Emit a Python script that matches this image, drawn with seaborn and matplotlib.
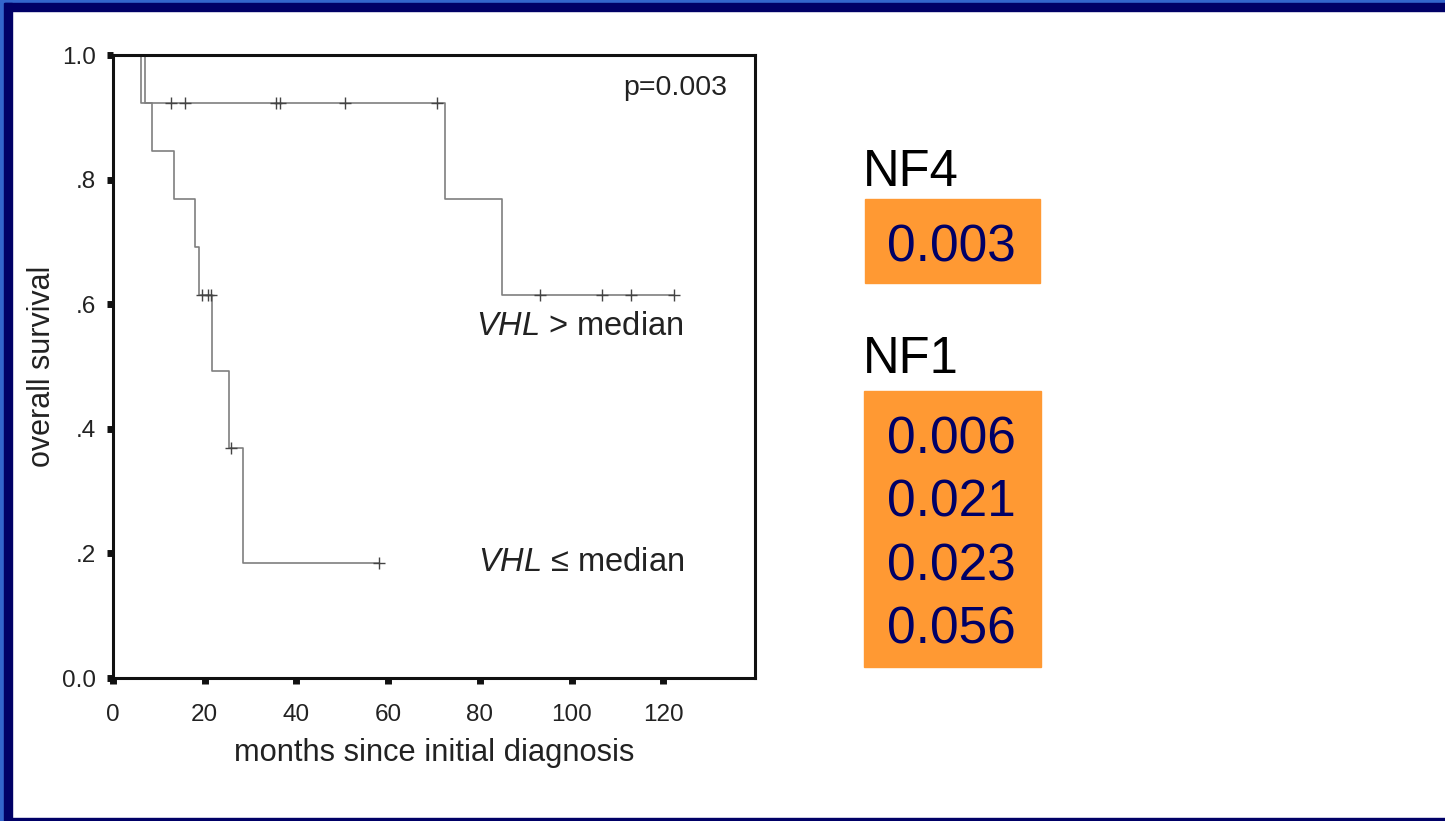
import numpy as np
import pandas as pd
import matplotlib
matplotlib.use("Agg")
import matplotlib.pyplot as plt
from matplotlib.patches import Rectangle
import seaborn as sns


# ── Data ─────────────────────────────────────────────────────────────────────

# VHL > median: event and censoring times in months
high_events   = [7.0, 72.5, 84.8]
high_censored = [12.7, 15.6, 35.5, 36.5, 50.5, 70.7, 93.2, 106.7, 112.9, 122.3]

# VHL <= median
low_events   = [6.1, 8.4, 13.2, 17.9, 18.8, 21.6, 25.4, 28.3]
low_censored = [19.4, 20.7, 21.3, 25.8, 57.9]

x_ticks = [0, 20, 40, 60, 80, 100, 120]
y_ticks = [0.0, 0.2, 0.4, 0.6, 0.8, 1.0]
y_tick_labels = ["0.0", ".2", ".4", ".6", ".8", "1.0"]

p_text = "p=0.003"
nf4_label = "NF4"
nf4_values = ["0.003"]
nf1_label = "NF1"
nf1_values = ["0.006", "0.021", "0.023", "0.056"]


# ── Kaplan-Meier helper ──────────────────────────────────────────────────────

def kaplan_meier(events, censored):
    """Return step curve (t, S) and survival at each censoring time."""
    times = sorted([(t, 1) for t in events] + [(t, 0) for t in censored])
    n = len(times)
    s = 1.0
    curve_t, curve_s = [0.0], [1.0]
    cens_t, cens_s = [], []
    for t, is_event in times:
        if is_event:
            s *= (n - 1) / n
            curve_t.append(t)
            curve_s.append(s)
        else:
            cens_t.append(t)
            cens_s.append(s)
        n -= 1
    last = max(events + censored)
    curve_t.append(last)
    curve_s.append(s)
    return curve_t, curve_s, cens_t, cens_s


rows, marks = [], []
for name, ev, ce in [("high", high_events, high_censored),
                     ("low", low_events, low_censored)]:
    ct, cs, mt, ms = kaplan_meier(ev, ce)
    rows += [{"group": name, "time": t, "surv": v} for t, v in zip(ct, cs)]
    marks += [{"group": name, "time": t, "surv": v} for t, v in zip(mt, ms)]
curve_df = pd.DataFrame(rows)
marks_df = pd.DataFrame(marks)


# ── Plot ─────────────────────────────────────────────────────────────────────

sns.set_theme(style="white")
plt.rcParams["font.family"] = ["Liberation Sans", "DejaVu Sans"]
plt.rcParams["mathtext.fontset"] = "custom"
plt.rcParams["mathtext.it"] = "Liberation Sans:italic"
plt.rcParams["mathtext.rm"] = "Liberation Sans"

fig = plt.figure(figsize=(14.45, 8.21), dpi=100)
W, H = 1445, 821

# slide frame
blue, navy = "#3366cc", "#000066"
fig.patches += [
    Rectangle((0, 1 - 3 / H), 1, 3 / H, transform=fig.transFigure, color=blue, zorder=0),
    Rectangle((0, 1 - 11 / H), 1, 8 / H, transform=fig.transFigure, color=navy, zorder=0),
    Rectangle((0, 0), 4 / W, 1, transform=fig.transFigure, color=blue, zorder=1),
    Rectangle((4 / W, 0), 8 / W, 1 - 3 / H, transform=fig.transFigure, color=navy, zorder=1),
    Rectangle((0, 0), 1, 3 / H, transform=fig.transFigure, color=navy, zorder=0),
]

ax = fig.add_axes([113 / W, 143 / H, 642 / W, 623 / H])

for name in ["high", "low"]:
    sub = curve_df[curve_df.group == name]
    sns.lineplot(data=sub, x="time", y="surv", ax=ax, estimator=None, sort=False,
                 drawstyle="steps-post", color="#7f7f7f", linewidth=1.2)
ax.plot(marks_df.time, marks_df.surv, linestyle="none", marker="+",
        markersize=9, markeredgewidth=1.0, color="#444444")

ax.set_xlim(0, 140)
ax.set_ylim(0, 1)
ax.set_xticks(x_ticks)
ax.set_yticks(y_ticks)
ax.set_yticklabels(y_tick_labels)
ax.tick_params(axis="both", direction="out", length=4, width=5, color="#111111",
               labelsize=17.5, labelcolor="#222222", left=True, bottom=True)
ax.tick_params(axis="x", pad=15)
ax.tick_params(axis="y", pad=8)
for side in ["left", "bottom", "top", "right"]:
    ax.spines[side].set_visible(True)
    ax.spines[side].set_color("#111111")
    ax.spines[side].set_linewidth(2.2)

ax.set_xlabel("months since initial diagnosis", fontsize=22.2, color="#222222", labelpad=8)
ax.set_ylabel("overall survival", fontsize=22, color="#222222", labelpad=4)

ax.text(134, 0.936, p_text, ha="right", va="baseline", fontsize=20.5, color="#222222")
ax.text(124.5, 0.551, r"$\it{VHL}$ > median", ha="right", va="baseline",
        fontsize=23.5, color="#222222")
ax.text(124.5, 0.172, r"$\it{VHL}$ ≤ median", ha="right", va="baseline",
        fontsize=23.5, color="#222222")

# right-hand p-value panel
orange = "#ff9933"
fig.text(863 / W, 1 - 186 / H, nf4_label, fontsize=36.5, color="black", va="baseline")
fig.patches.append(Rectangle((865 / W, 1 - 283 / H), 175 / W, 84 / H,
                             transform=fig.transFigure, color=orange, zorder=1))
for i, v in enumerate(nf4_values):
    fig.text(951 / W, 1 - (262 + 63.5 * i) / H, v, fontsize=37, color=navy,
             ha="center", va="baseline")

fig.text(863 / W, 1 - 373 / H, nf1_label, fontsize=36.5, color="black", va="baseline")
fig.patches.append(Rectangle((864 / W, 1 - 667 / H), 177 / W, 276 / H,
                             transform=fig.transFigure, color=orange, zorder=1))
for i, v in enumerate(nf1_values):
    fig.text(951 / W, 1 - (453 + 63.5 * i) / H, v, fontsize=37, color=navy,
             ha="center", va="baseline")

fig.savefig("out.png", dpi=100)
